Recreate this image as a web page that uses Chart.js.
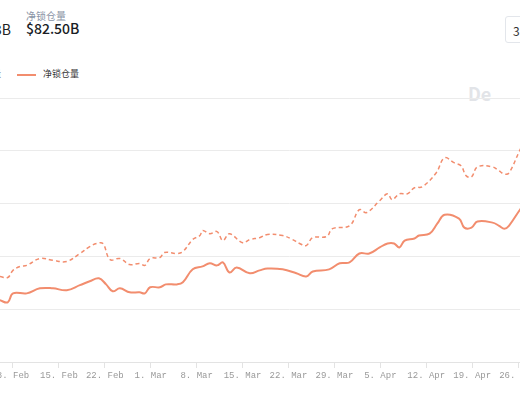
<!DOCTYPE html>
<html>
<head>
<meta charset="utf-8">
<script src="https://cdn.jsdelivr.net/npm/chart.js@4.4.1/dist/chart.umd.min.js"></script>
<style>
  body { margin: 0; width: 520px; height: 400px; overflow: hidden; position: relative; background: #fff; font-family: "Noto Sans CJK SC", "Noto Sans", sans-serif; }
  .abs { position: absolute; white-space: nowrap; }
  #wrap { position: absolute; left: -40px; top: 0; width: 620px; height: 400px; }
</style>
</head>
<body>
<div class="abs" style="left:-6px;top:19px;font-size:14px;color:#222;">3B</div>
<div class="abs" style="left:26px;top:8px;font-size:10px;color:#8a94a6;">净锁仓量</div>
<div class="abs" style="left:26px;top:18px;font-size:14px;font-weight:500;color:#1a1d26;">$82.50B</div>
<div class="abs" style="left:505px;top:16px;width:30px;height:27px;border:1px solid #e3e6eb;border-radius:3px;font-size:12px;color:#333;line-height:27px;padding-left:7px;box-sizing:border-box;">3</div>
<div class="abs" style="left:-8px;top:67px;font-size:9px;color:#333;">量</div>
<div class="abs" style="left:17px;top:74px;width:19px;height:2px;background:#f28d6e;"></div>
<div class="abs" style="left:43px;top:67px;font-size:9px;color:#333;">净锁仓量</div>
<div class="abs" style="left:468px;top:80px;font-size:18px;font-weight:bold;color:#e2e4e8;">De</div>
<div id="wrap"><canvas id="c"></canvas></div>
<script>
// days counted from 8 Feb; values in $B
const tickDays = [0, 7, 14, 21, 28, 35, 42, 49, 56, 63, 70, 77];
const tickLabels = ['8. Feb', '15. Feb', '22. Feb', '1. Mar', '8. Mar', '15. Mar', '22. Mar', '29. Mar', '5. Apr', '12. Apr', '19. Apr', '26. Apr'];

const netLocked = [[-2,23.4],[-0.8,22.6],[0,26.0],[2.1,26.0],[4.1,27.9],[6.1,27.9],[8.2,27.2],[10.2,29.1],[11.7,30.6],[13.1,31.7],[14.2,29.4],[15.2,26.8],[16.3,27.9],[17.8,26.4],[19.3,26.4],[20.1,26.0],[20.9,28.3],[22.4,28.3],[23.3,29.4],[25.0,29.4],[25.9,30.2],[27.4,35.1],[28.9,36.2],[30.0,37.4],[31.1,36.6],[32.0,37.7],[33.0,33.9],[34.1,35.8],[36.1,33.6],[37.6,34.7],[38.8,35.4],[41.1,35.1],[43.2,33.6],[44.7,32.4],[45.7,34.3],[48.2,35.1],[49.8,37.4],[51.3,37.7],[52.8,41.1],[54.3,41.1],[55.9,43.4],[57.1,44.9],[58.1,44.9],[58.9,43.4],[59.7,46.0],[61.2,46.8],[61.9,47.9],[63.5,48.6],[64.7,52.5],[65.8,55.8],[68.0,54.3],[68.8,50.9],[69.9,50.9],[70.8,53.2],[73.1,52.8],[74.1,51.6],[74.9,50.5],[75.6,51.6],[77.2,57.4],[78,60.0]];

const totalLocked = [[-2,32.4],[-0.8,32.0],[0,34.7],[1.1,36.2],[2.1,36.6],[4.1,39.2],[6.1,38.5],[8.2,38.1],[10.2,41.1],[11.7,43.7],[12.8,44.9],[13.7,44.9],[14.8,38.8],[16.3,39.2],[17.8,36.9],[19.3,37.3],[20.1,36.6],[20.9,39.2],[22.4,39.6],[23.1,41.5],[25.0,41.1],[25.9,41.8],[27.4,46.4],[28.5,47.9],[28.9,49.8],[30.0,48.6],[31.1,49.4],[32.0,46.0],[33.0,48.6],[35.0,45.2],[36.1,46.4],[37.6,47.1],[38.8,48.3],[41.1,47.9],[42.6,46.4],[43.7,44.9],[44.7,44.1],[45.7,47.1],[47.8,47.5],[48.7,50.5],[51.3,51.6],[52.8,57.7],[53.9,56.6],[55.9,61.1],[57.1,63.7],[57.8,61.5],[58.9,63.7],[60.1,63.7],[61.2,66.0],[62.4,66.4],[64.5,71.6],[65.8,77.3],[67.3,75.4],[68.3,74.3],[69.1,70.5],[69.9,70.1],[70.8,73.9],[73.1,73.9],[74.1,72.4],[74.9,71.2],[75.6,71.6],[77.2,79.9],[78,84.0]];

const toPts = arr => arr.map(([x, y]) => ({ x, y }));
const lineColor = 'rgb(242, 141, 110)';

const chart = new Chart(document.getElementById('c'), {
  type: 'line',
  data: {
    datasets: [
      { label: '总锁仓量', data: toPts(totalLocked), borderColor: lineColor, borderWidth: 1.5, borderDash: [4, 3], pointRadius: 0, tension: 0.4, fill: false },
      { label: '净锁仓量', data: toPts(netLocked), borderColor: lineColor, borderWidth: 2, pointRadius: 0, tension: 0.4, fill: false }
    ]
  },
  options: {
    responsive: true,
    maintainAspectRatio: false,
    animation: false,
    layout: { padding: { top: 98, left: 0, right: 0, bottom: 0 } },
    plugins: { legend: { display: false }, tooltip: { enabled: false } },
    scales: {
      x: {
        type: 'linear',
        min: -2,
        max: 83.3,
        afterBuildTicks: axis => { axis.ticks = tickDays.map(v => ({ value: v })); },
        afterFit: axis => { axis.height = 38; },
        ticks: {
          autoSkip: false,
          maxRotation: 0,
          padding: 2,
          color: '#999',
          font: { family: 'Liberation Mono', size: 9 },
          callback: (v) => tickLabels[tickDays.indexOf(v)]
        },
        grid: { drawOnChartArea: false, tickLength: 6, color: '#e3e3e3' },
        border: { color: '#e3e3e3' }
      },
      y: {
        min: 0,
        max: 100,
        afterFit: axis => { axis.width = 40; },
        ticks: { stepSize: 20, display: false },
        grid: { color: '#ebebeb', drawTicks: false },
        border: { display: false }
      }
    }
  }
});

// align the day scale with the page: 8 Feb at page x 13, 46px per week
const pxPerDay = 46 / 7;
const dayAt = cx => (cx - 40 - 13) / pxPerDay;
const ca = chart.chartArea;
chart.options.scales.x.min = dayAt(ca.left);
chart.options.scales.x.max = dayAt(ca.right);
chart.update();
</script>
</body>
</html>
